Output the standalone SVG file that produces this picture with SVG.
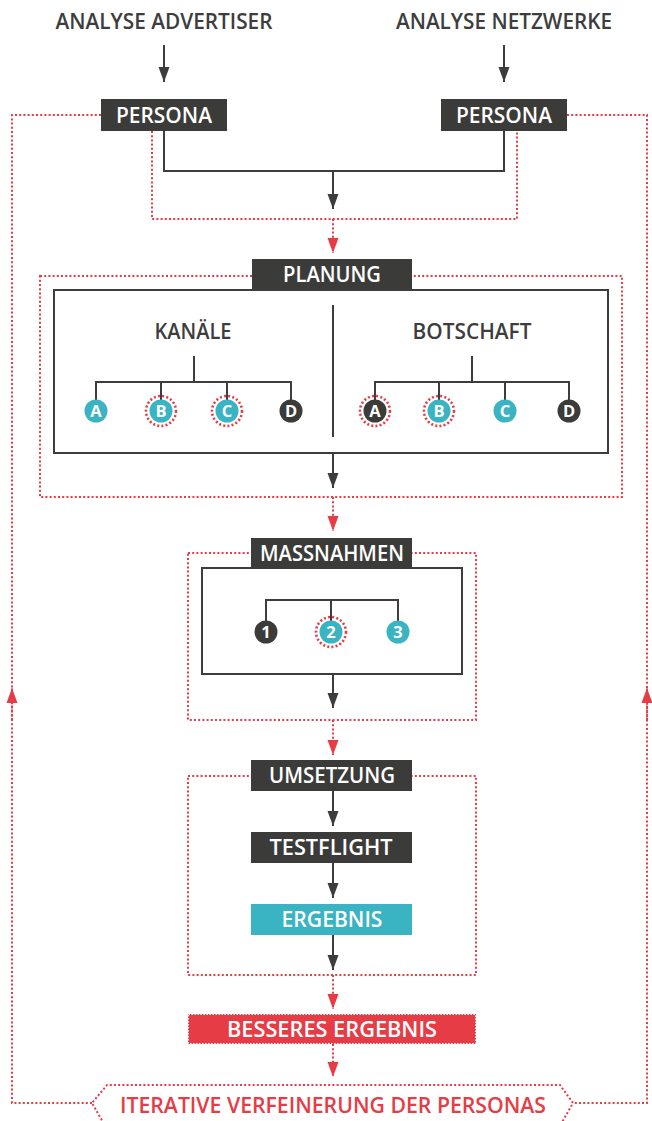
<svg xmlns="http://www.w3.org/2000/svg" width="652" height="1121" viewBox="0 0 652 1121">
<defs>
<style>
.t{font-family:"Open Sans","Liberation Sans",sans-serif;font-weight:600;text-anchor:middle}
.hd{font-size:21.5px;fill:#3d3d3d}
.lb{font-size:21.5px;fill:#fff}
.box{fill:#3b3b3a}
.teal{fill:#3ab4c2}
.ln{fill:none;stroke:#3d3d3d;stroke-width:2}
.rd{fill:none;stroke:#e63c46;stroke-width:2;stroke-dasharray:2 2.2}
.ring{fill:none;stroke:#e63c46;stroke-width:2.6;stroke-dasharray:2 2.2}
.cl{font-family:"Open Sans","Liberation Sans",sans-serif;font-weight:700;font-size:16.5px;fill:#fff;text-anchor:middle}
</style>
<marker id="ak" markerUnits="userSpaceOnUse" markerWidth="16" markerHeight="11" refX="15" refY="5.5" orient="auto" overflow="visible">
<path d="M0,0 L15,5.5 L0,11 z" fill="#3d3d3d"/>
</marker>
<marker id="ar" markerUnits="userSpaceOnUse" markerWidth="16" markerHeight="11" refX="15" refY="5.5" orient="auto" overflow="visible">
<path d="M0,0 L15,5.5 L0,11 z" fill="#e63c46"/>
</marker>
</defs>
<rect width="652" height="1121" fill="#fff"/>

<g id="connectors">
<line class="ln" x1="164" y1="45" x2="164" y2="82" marker-end="url(#ak)"/>
<line class="ln" x1="504" y1="45" x2="504" y2="82" marker-end="url(#ak)"/>
<polyline class="ln" points="164,131 164,171 504,171 504,131"/>
<line class="ln" x1="333" y1="171" x2="333" y2="209" marker-end="url(#ak)"/>
<polyline class="rd" points="101,115 12,115 12,1103 92,1103"/>
<polyline class="rd" points="567,115 647,115 647,1103 573,1103"/>
<line class="rd" x1="12" y1="720" x2="12" y2="688" marker-end="url(#ar)"/>
<line class="rd" x1="647" y1="720" x2="647" y2="688" marker-end="url(#ar)"/>
<polyline class="rd" points="152,131 152,219 517,219 517,131"/>
<line class="rd" x1="333" y1="219" x2="333" y2="253" marker-end="url(#ar)"/>
<line class="ln" x1="333" y1="453" x2="333" y2="488" marker-end="url(#ak)"/>
<line class="rd" x1="333" y1="497" x2="333" y2="531" marker-end="url(#ar)"/>
<line class="ln" x1="333" y1="674" x2="333" y2="708" marker-end="url(#ak)"/>
<line class="rd" x1="333" y1="720" x2="333" y2="755" marker-end="url(#ar)"/>
<line class="ln" x1="333" y1="791" x2="333" y2="826" marker-end="url(#ak)"/>
<line class="ln" x1="333" y1="863" x2="333" y2="898" marker-end="url(#ak)"/>
<line class="ln" x1="333" y1="935" x2="333" y2="970" marker-end="url(#ak)"/>
<line class="rd" x1="333" y1="975" x2="333" y2="1009" marker-end="url(#ar)"/>
<line class="rd" x1="333" y1="1044" x2="333" y2="1077" marker-end="url(#ar)"/>
</g>

<g id="analyse-advertiser"><text class="t hd" x="164" y="29" textLength="217" lengthAdjust="spacingAndGlyphs">ANALYSE ADVERTISER</text></g>
<g id="analyse-netzwerke"><text class="t hd" x="504" y="29" textLength="216" lengthAdjust="spacingAndGlyphs">ANALYSE NETZWERKE</text></g>

<g id="persona-left"><rect class="box" x="101" y="99" width="126" height="32"/><text class="t lb" x="164" y="123" textLength="96" lengthAdjust="spacingAndGlyphs">PERSONA</text></g>
<g id="persona-right"><rect class="box" x="441" y="99" width="126" height="32"/><text class="t lb" x="504" y="123" textLength="96" lengthAdjust="spacingAndGlyphs">PERSONA</text></g>

<g id="planung">
<rect class="rd" x="40" y="276" width="582" height="221"/>
<rect x="54" y="290" width="554" height="163" fill="#fff" stroke="#3d3d3d" stroke-width="2"/>
<rect class="box" x="252" y="259" width="160" height="31"/>
<text class="t lb" x="332" y="282" textLength="98" lengthAdjust="spacingAndGlyphs">PLANUNG</text>
<line class="ln" x1="333" y1="305" x2="333" y2="437"/>
</g>

<g id="kanaele">
<text class="t hd" x="193" y="339" textLength="77" lengthAdjust="spacingAndGlyphs">KANÄLE</text>
<polyline class="ln" points="194,356 194,382"/>
<polyline class="ln" points="96,400 96,382 291,382 291,400"/>
<line class="ln" x1="161" y1="382" x2="161" y2="400"/>
<line class="ln" x1="227" y1="382" x2="227" y2="400"/>
<circle class="teal" cx="96" cy="411" r="11.5"/><text class="cl" x="96" y="417">A</text>
<circle class="ring" cx="161" cy="411" r="15"/><circle class="teal" cx="161" cy="411" r="11.5"/><text class="cl" x="161" y="417">B</text>
<circle class="ring" cx="227" cy="411" r="15"/><circle class="teal" cx="227" cy="411" r="11.5"/><text class="cl" x="227" y="417">C</text>
<circle class="box" cx="291" cy="411" r="11.5"/><text class="cl" x="291" y="417">D</text>
</g>

<g id="botschaft">
<text class="t hd" x="472" y="339" textLength="119" lengthAdjust="spacingAndGlyphs">BOTSCHAFT</text>
<polyline class="ln" points="472,356 472,382"/>
<polyline class="ln" points="375,400 375,382 569,382 569,400"/>
<line class="ln" x1="439" y1="382" x2="439" y2="400"/>
<line class="ln" x1="505" y1="382" x2="505" y2="400"/>
<circle class="ring" cx="375" cy="411" r="15"/><circle class="box" cx="375" cy="411" r="11.5"/><text class="cl" x="375" y="417">A</text>
<circle class="ring" cx="439" cy="411" r="15"/><circle class="teal" cx="439" cy="411" r="11.5"/><text class="cl" x="439" y="417">B</text>
<circle class="teal" cx="505" cy="411" r="11.5"/><text class="cl" x="505" y="417">C</text>
<circle class="box" cx="569" cy="411" r="11.5"/><text class="cl" x="569" y="417">D</text>
</g>

<g id="massnahmen">
<rect class="rd" x="188" y="553" width="288" height="167"/>
<rect x="202" y="568" width="260" height="106" fill="#fff" stroke="#3d3d3d" stroke-width="2"/>
<rect class="box" x="251" y="538" width="161" height="31"/>
<text class="t lb" x="332" y="561" textLength="144" lengthAdjust="spacingAndGlyphs">MASSNAHMEN</text>
<polyline class="ln" points="266,622 266,600 398,600 398,622"/>
<line class="ln" x1="331" y1="600" x2="331" y2="622"/>
<circle class="box" cx="266" cy="632" r="11.5"/><text class="cl" x="266" y="638">1</text>
<circle class="ring" cx="331" cy="632" r="15"/><circle class="teal" cx="331" cy="632" r="11.5"/><text class="cl" x="331" y="638">2</text>
<circle class="teal" cx="398" cy="632" r="11.5"/><text class="cl" x="398" y="638">3</text>
</g>

<g id="umsetzung">
<rect class="rd" x="188" y="776" width="288" height="199"/>
<rect class="box" x="251" y="760" width="161" height="31"/>
<text class="t lb" x="332" y="783" textLength="126" lengthAdjust="spacingAndGlyphs">UMSETZUNG</text>
</g>
<g id="testflight"><rect class="box" x="251" y="832" width="161" height="31"/><text class="t lb" x="331" y="855" textLength="123" lengthAdjust="spacingAndGlyphs">TESTFLIGHT</text></g>
<g id="ergebnis"><rect class="teal" x="251" y="904" width="161" height="31"/><text class="t lb" x="332" y="927" textLength="101" lengthAdjust="spacingAndGlyphs">ERGEBNIS</text></g>

<g id="besseres-ergebnis">
<rect x="188" y="1014" width="288" height="30" fill="#e63c46"/>
<rect x="188.5" y="1014.5" width="287" height="29" fill="none" stroke="#fff" stroke-width="1" stroke-dasharray="1.5 1.5"/>
<text class="t lb" x="332" y="1037" textLength="210" lengthAdjust="spacingAndGlyphs">BESSERES ERGEBNIS</text>
</g>

<g id="iterative">
<polyline class="rd" points="104,1124 92,1103 107,1085 560,1085 573,1103 561,1124"/>
<text class="t" x="333" y="1113" textLength="426" lengthAdjust="spacingAndGlyphs" style="font-size:22px;fill:#e63c46">ITERATIVE VERFEINERUNG DER PERSONAS</text>
</g>
</svg>
